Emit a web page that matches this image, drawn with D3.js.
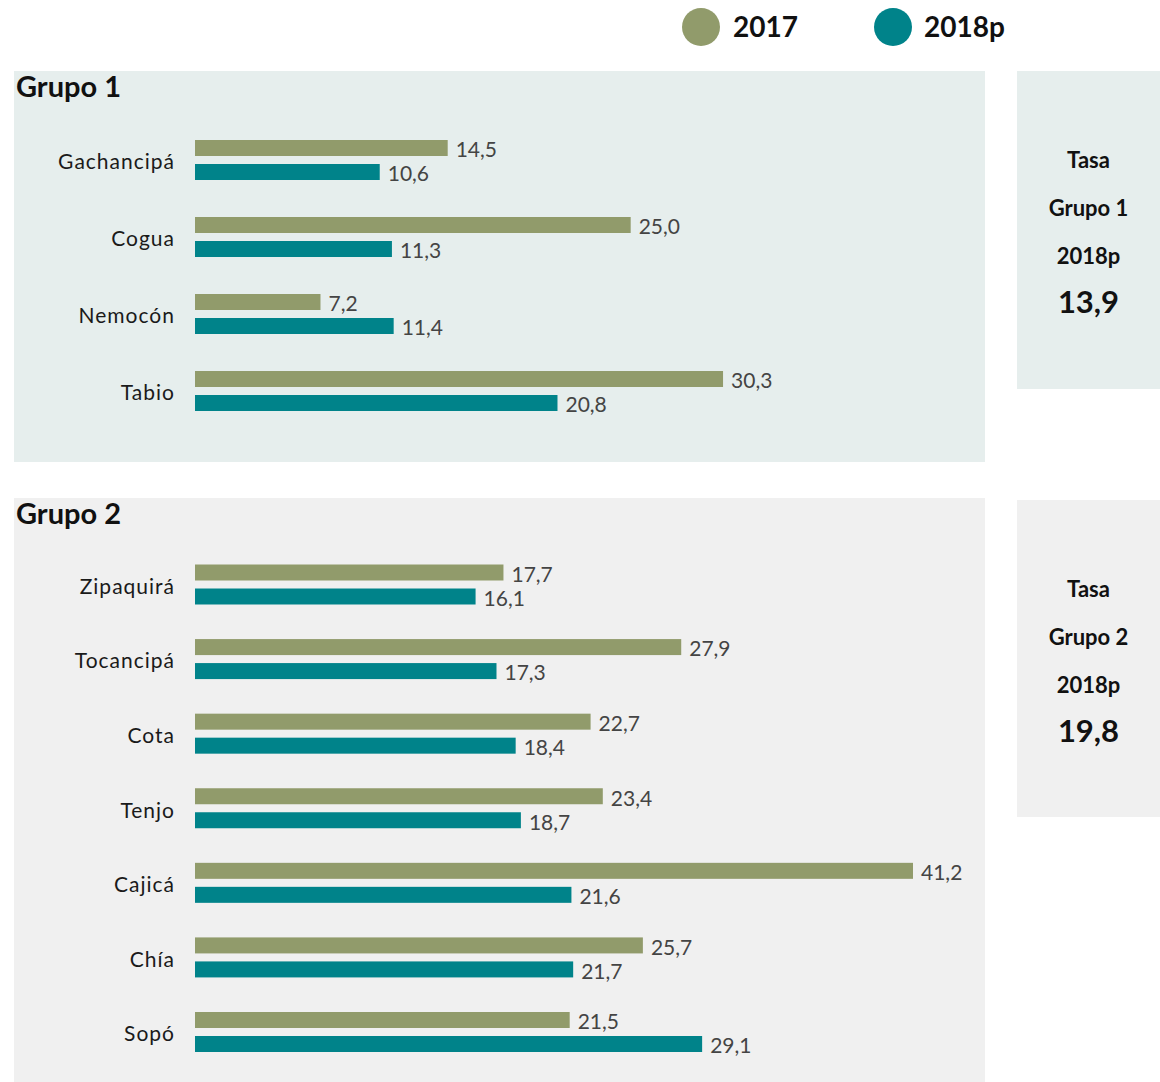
<!DOCTYPE html>
<html><head><meta charset="utf-8">
<script src="https://cdn.jsdelivr.net/npm/d3@7"></script>
<style>body{margin:0;background:#fff}svg{display:block;font-family:"Source Sans Pro",Lato,"Noto Sans",sans-serif}</style>
</head><body><svg id="c" width="1160" height="1082"></svg>
<script>
const series = ["2017", "2018p"];
const colors = ["#919b6b", "#00838a"];
const group1Names = ["Gachancipá", "Cogua", "Nemocón", "Tabio"];
const group1_2017 = [14.5, 25.0, 7.2, 30.3];
const group1_2018 = [10.6, 11.3, 11.4, 20.8];
const group2Names = ["Zipaquirá", "Tocancipá", "Cota", "Tenjo", "Cajicá", "Chía", "Sopó"];
const group2_2017 = [17.7, 27.9, 22.7, 23.4, 41.2, 25.7, 21.5];
const group2_2018 = [16.1, 17.3, 18.4, 18.7, 21.6, 21.7, 29.1];
const groupRates = ["13,9", "19,8"];

const svg = d3.select("#c");
const fmt = v => d3.format(".1f")(v).replace(".", ",");
const x = d3.scaleLinear().domain([0, 41.2]).range([195, 913]);

// legend
const leg = svg.append("g");
[[701, 733], [893, 924]].forEach((p, i) => {
  leg.append("circle").attr("cx", p[0]).attr("cy", 27).attr("r", 19).attr("fill", colors[i]);
  leg.append("text").attr("x", p[1]).attr("y", 37).attr("font-size", 28).attr("font-weight", 700).attr("fill", "#111").text(series[i]);
});

const groups = [
  {title: "Grupo 1", names: group1Names, v: [group1_2017, group1_2018], panel: [14, 71, 971, 391], side: [1017, 71, 143, 318], bg: "#e6eeed", yr: [160, 391], sideY: [160, 208, 256, 302], rate: groupRates[0]},
  {title: "Grupo 2", names: group2Names, v: [group2_2017, group2_2018], panel: [14, 498, 971, 584], side: [1017, 500, 143, 317], bg: "#f0f0f0", yr: [584.5, 1032], sideY: [589, 637, 685, 731], rate: groupRates[1]}
];

groups.forEach(g => {
  const G = svg.append("g");
  G.append("rect").attr("x", g.panel[0]).attr("y", g.panel[1]).attr("width", g.panel[2]).attr("height", g.panel[3]).attr("fill", g.bg);
  G.append("rect").attr("x", g.side[0]).attr("y", g.side[1]).attr("width", g.side[2]).attr("height", g.side[3]).attr("fill", g.bg);
  G.append("text").attr("x", 16).attr("y", g.panel[1] + 26).attr("font-size", 29).attr("font-weight", 700).attr("fill", "#111").text(g.title);
  const y = d3.scalePoint().domain(g.names).range(g.yr);
  G.selectAll("text.cat").data(g.names).join("text").attr("class", "cat")
    .attr("x", 175).attr("y", d => y(d) + 2).attr("dy", "0.35em").attr("text-anchor", "end")
    .attr("font-size", 21).attr("letter-spacing", "1px").attr("fill", "#1a1a1a").text(d => d);
  g.v.forEach((vals, si) => {
    const off = si === 0 ? -20 : 4;
    G.selectAll("rect.s" + si).data(vals).join("rect").attr("class", "s" + si)
      .attr("x", x(0)).attr("y", (d, i) => y(g.names[i]) + off)
      .attr("width", d => x(d) - x(0)).attr("height", 16).attr("fill", colors[si]);
    G.selectAll("text.l" + si).data(vals).join("text").attr("class", "l" + si)
      .attr("x", d => x(d) + 8).attr("y", (d, i) => y(g.names[i]) + off + 10).attr("dy", "0.35em")
      .attr("font-size", 21).attr("fill", "#444").text(d => fmt(d));
  });
  const cx = g.side[0] + g.side[2] / 2;
  ["Tasa", g.title, "2018p"].forEach((t, i) => {
    G.append("text").attr("x", cx).attr("y", g.sideY[i]).attr("dy", "0.35em").attr("text-anchor", "middle")
      .attr("font-size", 22).attr("font-weight", 700).attr("fill", "#111").text(t);
  });
  G.append("text").attr("x", cx).attr("y", g.sideY[3]).attr("dy", "0.35em").attr("text-anchor", "middle")
    .attr("font-size", 31).attr("font-weight", 700).attr("fill", "#111").text(g.rate);
});
</script></body></html>
